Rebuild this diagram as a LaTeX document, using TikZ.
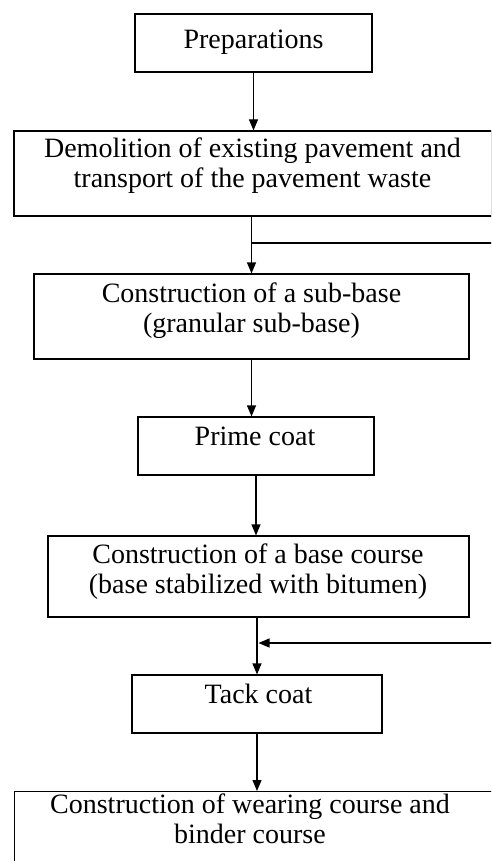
\documentclass[tikz,border=0pt]{standalone}
\usepackage{fontspec}
\setmainfont{Liberation Serif}
\usetikzlibrary{arrows.meta,calc}
\begin{document}
\begin{tikzpicture}[x=1pt,y=-1pt,
  box/.style={draw, line width=1.2pt, rectangle, inner sep=0pt},
  lbl/.style={inner sep=0pt, align=center, font=\fontsize{28}{30.5}\selectfont},
  link/.style={line width=1.2pt},
  arr/.style={link, -{Triangle[length=11pt,width=9pt]}}]
\useasboundingbox (0,0) rectangle (491,861);
\clip (0,0) rectangle (491,861);

% step frames
\node[box, minimum width=237pt, minimum height=58pt] (prep) at (253.5,43) {};
\node[box, minimum width=478pt, minimum height=85pt] (demo) at (253,173.5) {};
\node[box, minimum width=435pt, minimum height=85pt] (subbase) at (251.5,316.5) {};
\node[box, minimum width=236pt, minimum height=58pt] (prime) at (256,446) {};
\node[box, minimum width=421pt, minimum height=81pt] (base) at (258.5,576.5) {};
\node[box, minimum width=250pt, minimum height=58pt] (tack) at (257,704) {};
\node[box, anchor=north west, minimum width=478pt, minimum height=100pt] (wear) at (14,791) {};

% step captions (first line top = baseline - 19.3)
\node[lbl, anchor=base] (prepT) at (253.5,49) {Preparations};
\node[lbl, anchor=north] (demoT) at (252.5,137.2)
  {Demolition of existing pavement and\\transport of the pavement waste};
\node[lbl, anchor=north] (subbaseT) at (251.5,282.2)
  {Construction of a sub-base\\(granular sub-base)};
\node[lbl, anchor=base] (primeT) at (255,445) {Prime coat};
\node[lbl, anchor=north] (baseT) at (258,543.2)
  {Construction of a base course\\(base stabilized with bitumen)};
\node[lbl, anchor=base] (tackT) at (258.5,703) {Tack coat};
\node[lbl, anchor=north] (wearT) at (250,793.2)
  {Construction of wearing course and\\binder course};

% connectors
\draw[arr] (prep.south) -- (prep.south |- demo.north);
\draw[arr] (subbase.north |- demo.south) -- (subbase.north);
\coordinate (inA) at (495,243);
\draw[link] (inA) -- (inA -| subbase.north);
\draw[arr] (subbase.south) -- (subbase.south |- prime.north);
\draw[arr] (prime.south) -- (prime.south |- base.north);
\draw[arr] (tack.north |- base.south) -- (tack.north);
\coordinate (inB) at (495,643);
\draw[arr] (inB) -- ($(inB -| tack.north)+(1.5,0)$);
\draw[arr] (tack.south) -- (tack.south |- wear.north);
\end{tikzpicture}
\end{document}
